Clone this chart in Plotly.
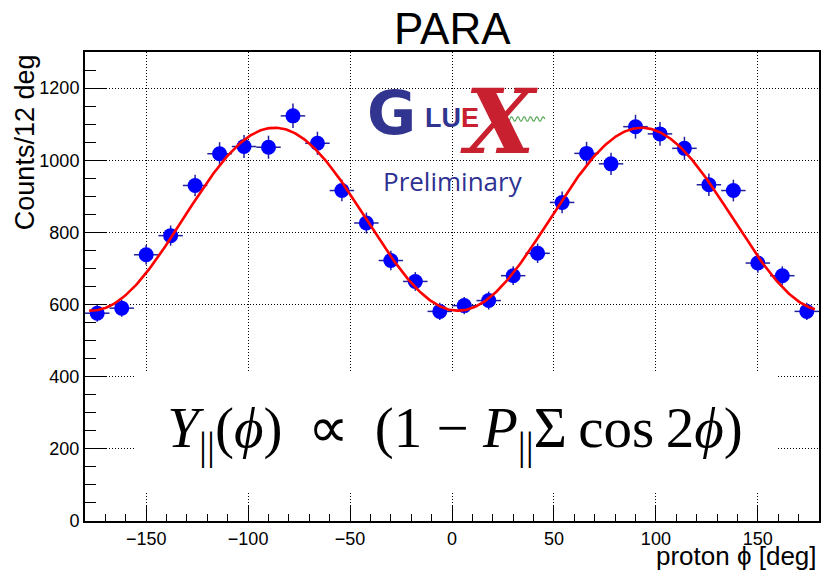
import numpy as np
import plotly.graph_objects as go

# ---- data ----
phi_centers = [-174, -162, -150, -138, -126, -114, -102, -90, -78, -66,
               -54, -42, -30, -18, -6, 6, 18, 30, 42, 54,
               66, 78, 90, 102, 114, 126, 138, 150, 162, 174]
counts = [576, 590, 738, 791, 930, 1018, 1038, 1036, 1123, 1047,
          916, 826, 722, 664, 581, 597, 611, 680, 742, 883,
          1019, 990, 1093, 1073, 1033, 932, 916, 715, 680, 581]
count_errs = [24, 24, 27, 28, 30, 32, 32, 32, 34, 32,
              30, 29, 27, 26, 24, 24, 25, 26, 27, 30,
              32, 31, 33, 33, 32, 31, 30, 27, 26, 24]
bin_halfwidth = [6] * 30

# fit: Y = A * (1 - PSigma * cos(2(phi - phi0)))
fit_A = 836.5
fit_PSigma = 0.303
fit_phi0 = 3.0
fit_range = (-178, 178)

x_ticks = [-150, -100, -50, 0, 50, 100, 150]
y_ticks = [0, 200, 400, 600, 800, 1000, 1200]

W, H = 825, 572
ML, MR, MT, MB = 85, 4, 52, 51
PW, PH = W - ML - MR, H - MT - MB


def px(xp):
    return (xp - ML) / PW


def py(yp):
    return (H - MB - yp) / PH


fig = go.Figure()

fig.add_trace(go.Scatter(
    x=phi_centers, y=counts, mode="markers",
    marker=dict(color="#0000ff", size=15, line=dict(width=0)),
    error_y=dict(type="data", array=count_errs, color="#22229c", thickness=1.5, width=0),
    error_x=dict(type="data", array=bin_halfwidth, color="#22229c", thickness=1.5, width=0),
    showlegend=False, hoverinfo="x+y",
))

fx = np.linspace(fit_range[0], fit_range[1], 500)
fy = fit_A * (1 - fit_PSigma * np.cos(np.radians(2 * (fx - fit_phi0))))
fig.add_trace(go.Scatter(x=fx, y=fy, mode="lines",
                         line=dict(color="#ff0000", width=2.6),
                         showlegend=False, hoverinfo="skip"))

ann = []
# title
ann.append(dict(text="PARA", x=px(453.5), y=py(28), xref="paper", yref="paper",
                showarrow=False, xanchor="center", yanchor="middle",
                font=dict(family="Liberation Sans", size=44, color="black")))
# y title
ann.append(dict(text="Counts/12 deg", x=px(25), y=py(142), xref="paper", yref="paper",
                showarrow=False, textangle=-90, xanchor="center", yanchor="middle",
                font=dict(family="Liberation Sans", size=27, color="black")))
# x title
ann.append(dict(text="proton ϕ [deg]", x=px(820), y=py(556), xref="paper", yref="paper",
                showarrow=False, xanchor="right", yanchor="middle", borderpad=0,
                height=32, valign="middle",
                font=dict(family="Liberation Sans", size=26, color="black")))
# formula box
ts = "\u2009"
formula = ("<i>Y</i><sub>||</sub>(<i>ϕ</i>)" + ts + " ∝ " + ts + "(1 − <i>P</i><sub>||</sub>Σ"
           + ts + "cos" + ts + "2<i>ϕ</i>)")
ann.append(dict(
    text=formula,
    x=px(456), y=py(432), xref="paper", yref="paper", showarrow=False,
    xanchor="center", yanchor="middle", width=642, height=118,
    bgcolor="white", borderpad=0, borderwidth=0,
    font=dict(family="Liberation Serif", size=57, color="black")))
# logo
navy = "#32358f"
red = "#c8202f"
ann.append(dict(text="<b>G</b>", x=px(392), y=py(113), xref="paper", yref="paper",
                showarrow=False, xanchor="center", yanchor="middle", borderpad=0,
                font=dict(family="DejaVu Sans", size=60, color=navy)))
ann.append(dict(text=f"<b>LU<span style='color:{red}'>E</span></b>",
                x=px(425), y=py(118), xref="paper", yref="paper",
                showarrow=False, xanchor="left", yanchor="middle", borderpad=0,
                font=dict(family="Liberation Sans", size=27, color=navy)))
ann.append(dict(text="<b><i>X</i></b>", x=px(500), y=py(121), xref="paper", yref="paper",
                showarrow=False, xanchor="center", yanchor="middle", borderpad=0,
                font=dict(family="DejaVu Serif", size=90, color=red)))
ann.append(dict(text="Preliminary", x=px(454), y=py(181), xref="paper", yref="paper",
                showarrow=False, xanchor="center", yanchor="middle", borderpad=0,
                font=dict(family="Open Sans", size=26, color="#2e3192")))

# photon wave in logo
wx = np.linspace(508, 546, 120)
wy = 119 + 2.2 * np.sin((wx - 508) / 38 * 6 * 2 * np.pi)
path = "M " + " L ".join(f"{px(a):.5f},{py(b):.5f}" for a, b in zip(wx, wy))
shapes = [dict(type="path", path=path, xref="paper", yref="paper",
               line=dict(color="#5aa85a", width=1.2))]

axis_common = dict(
    showline=True, linecolor="black", linewidth=2, mirror=True,
    ticks="inside", tickcolor="black", tickwidth=1,
    showgrid=True, gridcolor="black", gridwidth=1, griddash="1px,2px",
    zeroline=False,
    tickfont=dict(family="Liberation Sans", size=18, color="black"),
)

fig.update_layout(
    width=W, height=H, autosize=False,
    margin=dict(l=ML, r=MR, t=MT, b=MB),
    plot_bgcolor="white", paper_bgcolor="white",
    xaxis=dict(range=[-180, 180], tickvals=x_ticks, ticklen=15,
               minor=dict(dtick=10, tick0=0, ticks="inside", ticklen=7,
                          tickcolor="black", showgrid=False),
               **axis_common),
    yaxis=dict(range=[0, 1300], tickvals=y_ticks, ticklen=21,
               minor=dict(dtick=50, tick0=0, ticks="inside", ticklen=11,
                          tickcolor="black", showgrid=False),
               **axis_common),
    annotations=ann, shapes=shapes, showlegend=False,
)

fig.write_html("out.html")
